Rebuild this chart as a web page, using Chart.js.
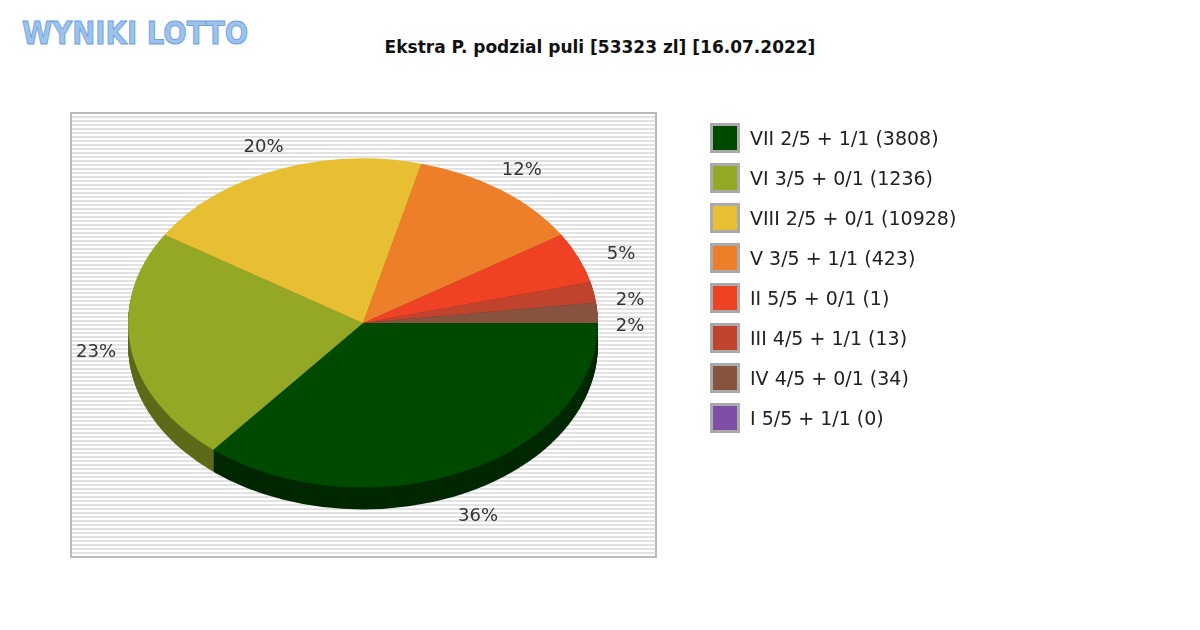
<!DOCTYPE html>
<html><head><meta charset="utf-8">
<script src="https://cdn.jsdelivr.net/npm/chart.js@4"></script>
<style>
body{margin:0;width:1200px;height:630px;background:#fff;font-family:"DejaVu Sans",sans-serif;position:relative;overflow:hidden}
#box{position:absolute;left:70px;top:112px;width:583px;height:442px;border:2px solid #bbb;
background:repeating-linear-gradient(#fff 0 2px,#e2e2e2 2px 4px)}
#title{position:absolute;top:37px;left:0;width:1200px;text-align:center;font-weight:bold;font-size:17px;color:#111}
#logo{position:absolute;left:22px;top:14px;font-family:"DejaVu Sans";font-weight:bold;font-size:32px;color:#9cc3ee;letter-spacing:0px;-webkit-text-stroke:1px #6fa0d8;transform:scaleX(0.86);transform-origin:left}
#c{position:absolute;left:0;top:0}
.li{position:absolute;left:710px;height:28px;display:flex;align-items:center;font-size:19px;color:#222}
.sw{width:24px;height:24px;border:3px solid #aaa;margin-right:10px}
</style></head><body>
<div id="logo">WYNIKI LOTTO</div>
<div id="title">Ekstra P. podzial puli [53323 zl] [16.07.2022]</div>
<div id="box"></div>
<canvas id="c" width="1200" height="630"></canvas>
<div id="legend"></div>
<script>
const labels=["VII 2/5 + 1/1 (3808)","VI 3/5 + 0/1 (1236)","VIII 2/5 + 0/1 (10928)","V 3/5 + 1/1 (423)","II 5/5 + 0/1 (1)","III 4/5 + 1/1 (13)","IV 4/5 + 0/1 (34)","I 5/5 + 1/1 (0)"];
const percents=[36,23,20,12,5,2,2,0];
const colors=["#004a00","#95a826","#e8bf33","#ee7f2a","#ef4124","#c0432e","#87523e","#7f4fa6"];
const dark=["#002800","#5e6a18","#94791f","#97511b","#982916","#7a2a1d","#553427","#503268"];
const lg=document.getElementById('legend');
labels.forEach((l,i)=>{const d=document.createElement('div');d.className='li';d.style.top=(124+i*40)+'px';
d.innerHTML=`<div class="sw" style="background:${colors[i]}"></div>${l}`;lg.appendChild(d);});
const CX=363,CY=323,SY=0.7,DEPTH=22;
const tilt={id:'tilt',
beforeDatasetsDraw(ch){const c=ch.ctx;c.save();c.translate(CX,CY);c.scale(1,SY);c.translate(-CX,-CY);
 const arcs=ch.getDatasetMeta(0).data;
 for(let d=DEPTH;d>0;d--){arcs.forEach((a,i)=>{if(a.endAngle-a.startAngle<=0)return;
  c.beginPath();c.moveTo(a.x,a.y+d/SY);c.arc(a.x,a.y+d/SY,a.outerRadius,a.startAngle,a.endAngle);c.closePath();c.fillStyle=dark[i];c.fill();});}
},
afterDatasetsDraw(ch){const c=ch.ctx;c.restore();
 const arcs=ch.getDatasetMeta(0).data;c.font='18px "DejaVu Sans"';c.fillStyle='#333';c.textAlign='center';c.textBaseline='middle';
 arcs.forEach((a,i)=>{if(percents[i]<=0)return;const m=(a.startAngle+a.endAngle)/2;const r=a.outerRadius*1.15;
  let x=a.x+Math.cos(m)*r,y=CY+Math.sin(m)*r*SY;if(Math.sin(m)>0.2)y+=DEPTH;
  if(i==4){x+=10;y+=6;}
  if(i>=5){x=a.x+a.outerRadius+32;}
  if(i==5)y=300;
  if(i==6)y=326;
  c.fillText(percents[i]+'%',x,y);});
}};
new Chart(document.getElementById('c'),{type:'pie',
data:{labels,datasets:[{data:percents,backgroundColor:colors,borderWidth:0}]},
options:{responsive:false,animation:false,rotation:90,
layout:{padding:{left:128,right:602,top:88,bottom:72}},
plugins:{legend:{display:false},tooltip:{enabled:false}}},
plugins:[tilt]});
</script></body></html>
